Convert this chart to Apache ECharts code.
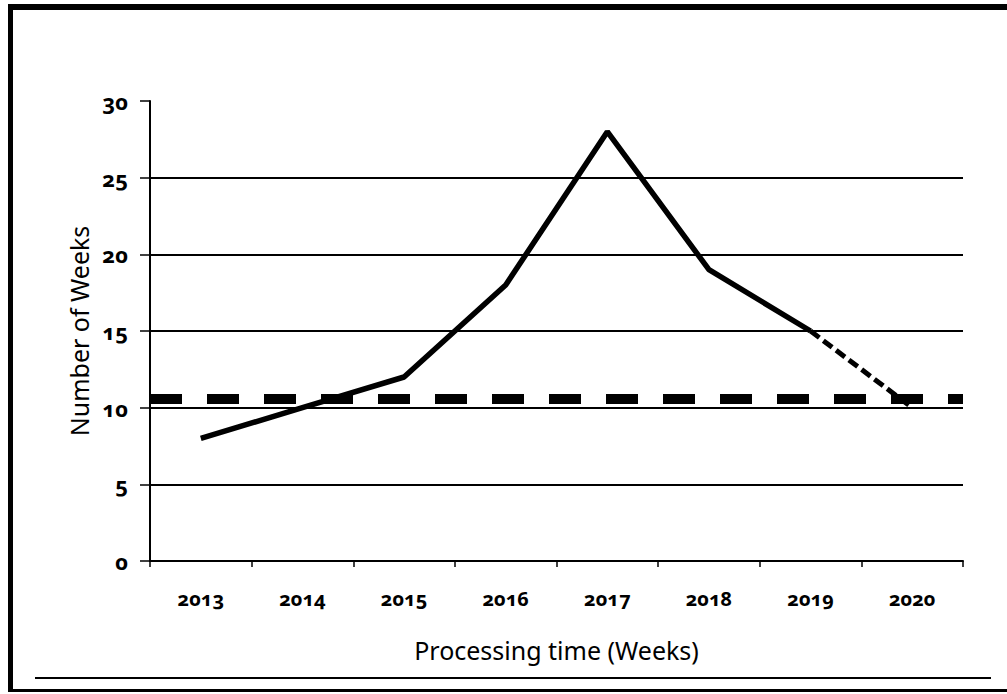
<!DOCTYPE html>
<html>
<head>
<meta charset="utf-8">
<script src="https://cdn.jsdelivr.net/npm/echarts@6/dist/echarts.min.js"></script>
<style>
  html, body { margin: 0; padding: 0; background: #fff; }
  #chart { width: 1007px; height: 694px; }
  #chart text { font-variant-numeric: oldstyle-nums; font-feature-settings: "onum" 1; }
</style>
</head>
<body>
<div id="chart"></div>
<script>
// Années (catégories de l'axe X)
const years = ['2013', '2014', '2015', '2016', '2017', '2018', '2019', '2020'];
// Valeurs observées (trait plein)
const observed = [8, 10, 12, 18, 28, 19, 15, null];
// Prévision (trait pointillé)
const forecast = [null, null, null, null, null, null, 15, 10];
// Seuil horizontal
const thresholdValue = 10.6;
// Graduations de l'axe Y
const yTicks = [0, 5, 10, 15, 20, 25, 30];

const font = 'Noto Sans';

const dom = document.getElementById('chart');
const myChart = echarts.init(dom, null, { renderer: 'svg' });

myChart.setOption({
    animation: false,
    backgroundColor: '#fff',
    grid: { left: 150, right: 44, top: 101, bottom: 133 },
    xAxis: {
        type: 'category',
        data: years,
        boundaryGap: true,
        name: 'Processing time (Weeks)',
        nameLocation: 'middle',
        nameGap: 76,
        nameTextStyle: { fontFamily: font, fontSize: 25, color: '#000' },
        axisLine: { lineStyle: { color: '#000', width: 2 } },
        axisTick: { show: true, length: 6, lineStyle: { color: '#000', width: 1.5 } },
        axisLabel: { fontFamily: font, fontSize: 20, fontWeight: 'bold', color: '#000', margin: 27 }
    },
    yAxis: {
        type: 'value',
        min: yTicks[0],
        max: yTicks[yTicks.length - 1],
        interval: 5,
        name: 'Number of Weeks',
        nameLocation: 'middle',
        nameGap: 54,
        nameTextStyle: { fontFamily: font, fontSize: 25, color: '#000' },
        axisLine: { show: true, lineStyle: { color: '#000', width: 2 } },
        axisTick: { show: true, length: 10, lineStyle: { color: '#000', width: 1.5 } },
        axisLabel: { fontFamily: font, fontSize: 22, fontWeight: 'bold', color: '#000', margin: 22 },
        splitLine: {
            show: true,
            lineStyle: {
                width: 2,
                // pas de ligne au sommet (30)
                color: ['#000', '#000', '#000', '#000', '#000', '#000', 'rgba(0,0,0,0)']
            }
        }
    },
    series: [
        {
            name: 'Observed',
            type: 'line',
            data: observed,
            symbol: 'none',
            lineStyle: { color: '#000', width: 5.5 },
            markLine: {
                silent: true,
                symbol: 'none',
                label: { show: false },
                lineStyle: { color: '#000', width: 10, type: [32, 25] },
                data: [{ yAxis: thresholdValue }]
            }
        },
        {
            name: 'Forecast',
            type: 'line',
            data: forecast,
            symbol: 'none',
            lineStyle: { color: '#000', width: 5, type: [11, 5] }
        }
    ],
    graphic: [
        // Cadre
        { type: 'rect', shape: { x: 8, y: 4, width: 1005, height: 6 }, style: { fill: '#000' } },
        { type: 'rect', shape: { x: 8, y: 4, width: 5, height: 688 }, style: { fill: '#000' } },
        { type: 'rect', shape: { x: 8, y: 689, width: 999, height: 3 }, style: { fill: '#000' } },
        { type: 'rect', shape: { x: 35, y: 677, width: 956, height: 2 }, style: { fill: '#000' } }
    ]
});
</script>
</body>
</html>
